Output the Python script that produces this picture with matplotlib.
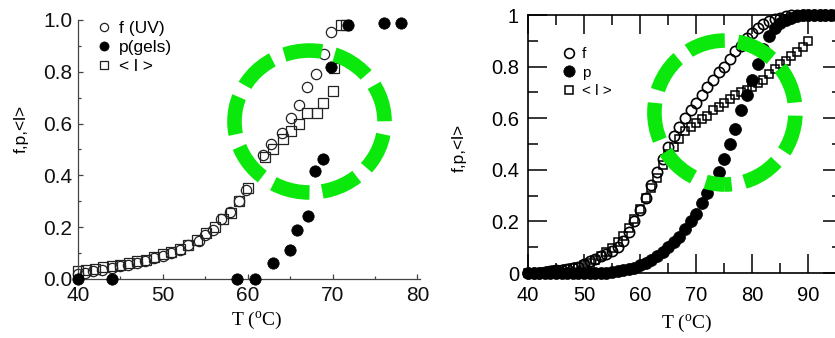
import matplotlib
matplotlib.use("Agg")
import matplotlib.pyplot as plt
from matplotlib.patches import Ellipse
from matplotlib.ticker import MultipleLocator, FixedLocator

plt.rcParams["font.family"] = ["Liberation Sans", "DejaVu Sans"]

# ---- left panel data ----
T_f_left = [40, 40.8, 41.8, 42.8, 44, 44.9, 45.9, 46.9, 47.9, 48.9, 50, 51, 52, 53,
            54.2, 55, 55.9, 56.9, 57.9, 59, 59.8, 61.8, 62.8, 64, 65.1, 66, 67, 68.1,
            69, 69.8]
f_left = [0.02, 0.023, 0.03, 0.036, 0.043, 0.05, 0.055, 0.06, 0.07, 0.08, 0.09, 0.10,
          0.11, 0.13, 0.146, 0.17, 0.19, 0.23, 0.26, 0.30, 0.345, 0.48, 0.52, 0.565,
          0.62, 0.67, 0.74, 0.79, 0.867, 0.955]

T_l_left = [40, 41, 42, 43, 44, 45, 46, 47, 48, 49, 50, 51, 52, 53, 54, 55.1, 56.1,
            57.1, 58, 59, 60, 62, 63, 64.1, 65.1, 66.1, 67, 68.2, 68.9, 70, 70.2, 71,
            71.6]
l_left = [0.03, 0.033, 0.04, 0.045, 0.05, 0.055, 0.06, 0.068, 0.075, 0.085, 0.095,
          0.105, 0.115, 0.13, 0.15, 0.178, 0.20, 0.23, 0.255, 0.30, 0.35, 0.47, 0.50,
          0.54, 0.57, 0.597, 0.64, 0.64, 0.68, 0.725, 0.815, 0.98, 0.98]

T_p_left = [40, 44, 58.7, 60.8, 63, 65, 65.8, 67.1, 67.9, 68.9, 69.8, 71.8, 76.1, 78.1]
p_left = [0.0, 0.0, 0.0, 0.0, 0.06, 0.11, 0.19, 0.245, 0.416, 0.464, 0.82, 0.98,
          0.99, 0.99]

# ---- right panel data ----
T_right = list(range(40, 96))
f_right = [0.0, 0.0, 0.0, 0.005, 0.008, 0.01, 0.012, 0.015, 0.02, 0.025,
           0.035, 0.045, 0.055, 0.065, 0.075, 0.085, 0.10, 0.125, 0.16, 0.20,
           0.245, 0.29, 0.34, 0.39, 0.44, 0.49, 0.53, 0.565, 0.60, 0.63,
           0.66, 0.69, 0.72, 0.75, 0.78, 0.80, 0.83, 0.86, 0.88, 0.91,
           0.93, 0.95, 0.965, 0.975, 0.985, 0.99, 0.995, 1.0, 1.0, 1.0,
           1.0, 1.0, 1.0, 1.0, 1.0, 1.0]
p_right = [0.0, 0.0, 0.0, 0.0, 0.0, 0.0, 0.0, 0.0, 0.0, 0.0,
           0.0, 0.0, 0.0, 0.0, 0.0, 0.003, 0.006, 0.01, 0.015, 0.02,
           0.03, 0.04, 0.05, 0.065, 0.08, 0.10, 0.12, 0.14, 0.17, 0.20,
           0.23, 0.27, 0.31, 0.35, 0.39, 0.44, 0.50, 0.56, 0.63, 0.69,
           0.75, 0.81, 0.87, 0.92, 0.95, 0.97, 0.98, 0.99, 0.995, 1.0,
           1.0, 1.0, 1.0, 1.0, 1.0, 1.0]
T_l_right = list(range(40, 91))
l_right = [0.0, 0.0, 0.0, 0.005, 0.008, 0.01, 0.012, 0.015, 0.02, 0.025,
           0.03, 0.04, 0.05, 0.065, 0.08, 0.095, 0.12, 0.145, 0.175, 0.21,
           0.25, 0.29, 0.33, 0.37, 0.42, 0.46, 0.49, 0.52, 0.55, 0.565,
           0.58, 0.595, 0.61, 0.63, 0.645, 0.66, 0.675, 0.69, 0.70, 0.71,
           0.72, 0.735, 0.75, 0.77, 0.79, 0.81, 0.82, 0.84, 0.855, 0.875,
           0.90]

GREEN = "#0be80b"
XLABEL = "T ($\\mathregular{^o}$C)"

fig = plt.figure(figsize=(8.35, 3.38), dpi=100)

# ================= left panel =================
ax1 = fig.add_axes([0.0934, 0.1746, 0.4096, 0.7663])
ax1.plot(T_f_left, f_left, "o", ms=7.4, mfc="none", mec="#222222", mew=0.9,
         label="f (UV)", clip_on=False)
ax1.plot(T_p_left, p_left, "o", ms=8.2, mfc="black", mec="black", mew=0.5,
         label="p(gels)", clip_on=False, zorder=3)
ax1.plot(T_l_left, l_left, "s", ms=6.8, mfc="none", mec="#222222", mew=0.9,
         label="< l >", clip_on=False)

ax1.set_xlim(40, 80.3)
ax1.set_ylim(0, 1.0)
for side in ["top", "right"]:
    ax1.spines[side].set_visible(False)
for side in ["left", "bottom"]:
    ax1.spines[side].set_color("#444444")
    ax1.spines[side].set_linewidth(0.9)
ax1.xaxis.set_major_locator(MultipleLocator(10))
ax1.xaxis.set_minor_locator(MultipleLocator(5))
ax1.yaxis.set_major_locator(MultipleLocator(0.2))
ax1.yaxis.set_minor_locator(MultipleLocator(0.1))
ax1.yaxis.set_major_formatter(lambda v, pos: f"{v:.1f}")
ax1.tick_params(which="both", direction="in", color="#444444", width=0.9,
                labelsize=15, labelcolor="#111111")
ax1.tick_params(which="major", length=3.8)
ax1.tick_params(which="minor", length=2.5)
ax1.tick_params(axis="x", pad=5)
ax1.tick_params(axis="y", pad=4)

ax1.set_xlabel(XLABEL, fontfamily="Liberation Serif", fontsize=14)
ax1.xaxis.set_label_coords(0.523, -0.12)
ax1.set_ylabel("f,p,<l>", fontsize=12.5)
ax1.yaxis.set_label_coords(-0.143, 0.579)

ax1.legend(loc="upper left", bbox_to_anchor=(0.05, 0.995), frameon=False,
           fontsize=12.5, handlelength=1.0, handletextpad=0.35, labelspacing=0.22,
           borderpad=0, borderaxespad=0, markerscale=0.8)

ax1.add_patch(Ellipse((67.28, 0.608), 17.68, 0.548, fill=False, ec=GREEN,
                      lw=10.5, linestyle=(2.62, (2.6, 0.9)), zorder=5,
                      clip_on=False))

# ================= right panel =================
ax2 = fig.add_axes([0.6323, 0.1923, 0.3760, 0.7633])
ax2.plot(T_right, f_right, "o", ms=7.4, mfc="none", mec="black", mew=1.2,
         label="f", clip_on=False)
ax2.plot(T_l_right, l_right, "s", ms=6.0, mfc="none", mec="black", mew=1.1,
         label="< l >", clip_on=False)
ax2.plot(T_right, p_right, "o", ms=8.6, mfc="black", mec="black", mew=0.5,
         label="p", clip_on=False, zorder=3)

ax2.set_xlim(40, 96)
ax2.set_ylim(0, 1)
for side in ax2.spines.values():
    side.set_linewidth(1.2)
ax2.xaxis.set_major_locator(MultipleLocator(10))
ax2.xaxis.set_minor_locator(MultipleLocator(5))
ax2.yaxis.set_major_locator(FixedLocator([0, 0.2, 0.4, 0.6, 0.8, 1.0]))
ax2.yaxis.set_minor_locator(MultipleLocator(0.1))
ax2.yaxis.set_major_formatter(lambda v, pos: f"{v:g}")
ax2.tick_params(which="both", direction="in", top=True, right=True, width=1.1,
                labelsize=14.5)
ax2.tick_params(which="major", length=13.5)
ax2.tick_params(which="minor", length=7.2)
ax2.tick_params(axis="x", pad=9)
ax2.tick_params(axis="y", pad=6.5)

ax2.set_xlabel(XLABEL, fontfamily="Liberation Serif", fontsize=14)
ax2.xaxis.set_label_coords(0.506, -0.155)
ax2.set_ylabel("f,p,<l>", fontsize=12.5)
ax2.yaxis.set_label_coords(-0.194, 0.484)

h, lab = ax2.get_legend_handles_labels()
ax2.legend([h[0], h[2], h[1]], [lab[0], lab[2], lab[1]], loc="upper left",
           bbox_to_anchor=(0.105, 0.875), frameon=False, fontsize=11,
           handlelength=1.0, handletextpad=0.35, labelspacing=0.3,
           borderpad=0, borderaxespad=0, markerscale=0.95)

ax2.add_patch(Ellipse((75.13, 0.622), 25.15, 0.558, fill=False, ec=GREEN,
                      lw=10.5, linestyle=(2.14, (2.6, 0.9)), zorder=5,
                      clip_on=False))

fig.savefig("out.png", dpi=100)
